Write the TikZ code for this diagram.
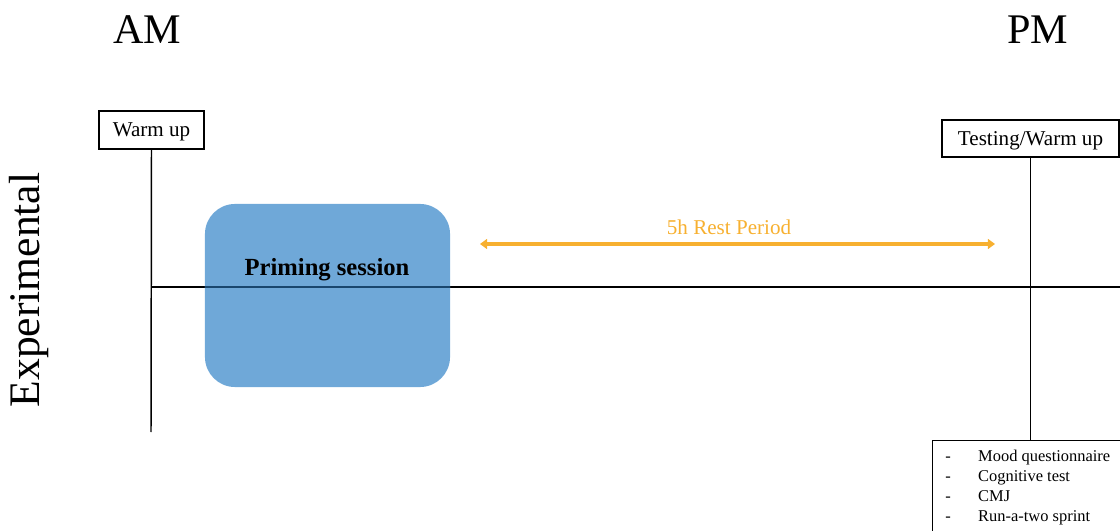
\documentclass[tikz,border=0pt]{standalone}
\usepackage{fontspec}
\setmainfont{Liberation Serif}
\usetikzlibrary{arrows.meta, positioning}
\definecolor{primeblue}{RGB}{111,168,216}
\definecolor{restorange}{RGB}{247,176,48}
\definecolor{lineblue}{RGB}{25,70,110}
\tikzset{phase/.style={draw,line width=1pt,inner sep=0pt,text depth=0pt,font=\fontsize{15}{18}\selectfont},
         session/.style={fill=primeblue,rounded corners=0.75cm,minimum width=6.125cm,minimum height=4.575cm},
         timeline/.style={line width=1.05pt},
         restarrow/.style={restorange,line width=2.6pt,{Triangle[length=5pt,width=7pt]}-{Triangle[length=5pt,width=7pt]}}}

\begin{document}
\begin{tikzpicture}[x=0.025cm,y=-0.025cm]
        \clip (0,0) rectangle (1120,531);
        \node[font=\fontsize{30}{36}\selectfont](am)at(147,30){AM};
        \node[font=\fontsize{30}{36}\selectfont](pm)at(1038,30){PM};
        \node[rotate=90,font=\fontsize{31}{37}\selectfont](exp)at(29,290){Experimental};

        \node[phase,minimum width=2.625cm,minimum height=0.95cm](warm)at(151.5,130){Warm up};
        \node[phase,minimum width=4.425cm,minimum height=0.925cm](test)at(1030.5,138.5){Testing/Warm up};
        \node[phase,anchor=north west,minimum width=5cm,minimum height=3cm](listbox)at(932,440){};
        \node[anchor=north west,inner sep=0pt,font=\fontsize{11.7}{14.17}\selectfont](list)at(945,447){%
            \begin{tabular}{@{}l@{\hspace{19.5pt}}l@{}}
            - & Mood questionnaire\\
            - & Cognitive test\\
            - & CMJ\\
            - & Run-a-two sprint
            \end{tabular}};

        \coordinate(axisL)at(151,287);
        \coordinate(axisR)at(1125,287);
        \coordinate(warmend)at(151,432);
        \draw[timeline](warm.south)--(warmend);
        \draw[timeline](test.south)--(test.south |- listbox.north);
        \draw[timeline](axisL)--(axisR);

        \node[session](prime)at(327.5,295.5){};
        \draw[timeline,lineblue](prime.west |- axisL)--(prime.east |- axisL);
        \node[font=\bfseries\fontsize{17.5}{21}\selectfont](primetext)at(327,270){Priming session};

        \coordinate(restL)at(480,244);
        \coordinate(restR)at(995,244);
        \draw[restarrow](restL)--(restR);
        \node[restorange,font=\fontsize{15}{18}\selectfont](rest)at(729,227){5h Rest Period};
    \end{tikzpicture}
\end{document}
